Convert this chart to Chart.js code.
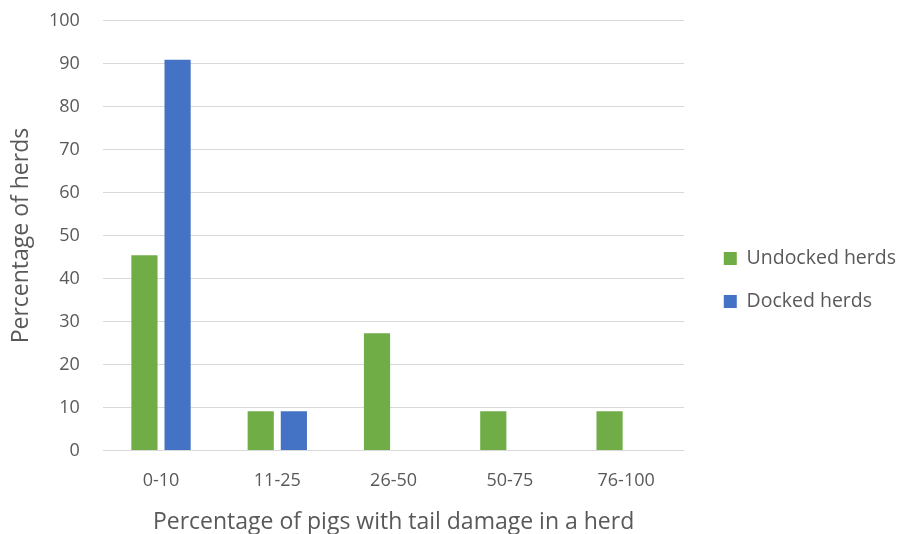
<!DOCTYPE html>
<html>
<head>
<meta charset="utf-8">
<script src="https://cdn.jsdelivr.net/npm/chart.js@4/dist/chart.umd.min.js"></script>
<style>
  html, body { margin: 0; padding: 0; background: #ffffff; }
  #wrap { width: 906px; height: 534px; }
</style>
</head>
<body>
<div id="wrap"><canvas id="c" width="906" height="534"></canvas></div>
<script>
// Share of herds by proportion of pigs with tail damage
const categories = ['0-10', '11-25', '26-50', '50-75', '76-100'];
const undockedHerds = [45.45, 9.09, 27.27, 9.09, 9.09];
const dockedHerds = [90.91, 9.09, 0, 0, 0];
const seriesNames = ['Undocked herds', 'Docked herds'];

const FONT = "'Open Sans', 'Liberation Sans', sans-serif";
const TEXT = '#595959';
const LEGEND_GAP = 16;

// Widens the legend box by a fixed gap on its plot-facing side,
// so the legend keeps its place while the plot ends further left.
const legendGap = {
  id: 'legendGap',
  beforeLayout(chart) {
    const lg = chart.legend;
    if (lg && !lg.__gapFit) {
      const fit = lg.fit.bind(lg);
      lg.fit = function () { fit(); this.width += LEGEND_GAP; };
      lg.__gapFit = true;
    }
  },
  afterLayout(chart) {
    const lg = chart.legend;
    if (lg) { lg.left += LEGEND_GAP; }
  }
};

new Chart(document.getElementById('c'), {
  type: 'bar',
  data: {
    labels: categories,
    datasets: [
      { label: seriesNames[0], data: undockedHerds, backgroundColor: '#70AD47' },
      { label: seriesNames[1], data: dockedHerds, backgroundColor: '#4472C4' }
    ]
  },
  plugins: [legendGap],
  options: {
    responsive: false,
    animation: false,
    devicePixelRatio: 1,
    layout: { padding: { left: 15, right: 0, top: 0, bottom: 0 } },
    datasets: { bar: { categoryPercentage: 0.57, barPercentage: 0.79 } },
    plugins: {
      tooltip: { enabled: false },
      legend: {
        position: 'right',
        // blank spacer above the items nudges the list slightly downward
        title: { display: true, text: ' ', font: { size: 10 }, padding: 7 },
        labels: {
          font: { family: FONT, size: 19.5 },
          color: TEXT,
          boxWidth: 13,
          boxHeight: 13,
          padding: 23.5
        }
      }
    },
    scales: {
      x: {
        grid: { display: false },
        border: { display: false },
        ticks: { font: { family: FONT, size: 18 }, color: TEXT, padding: 12 },
        title: {
          display: true,
          text: 'Percentage of pigs with tail damage in a herd',
          font: { family: FONT, size: 23, lineHeight: 1.0 },
          color: TEXT,
          padding: { top: 7, bottom: 0 }
        }
      },
      y: {
        min: 0,
        max: 100,
        ticks: { stepSize: 10, font: { family: FONT, size: 18 }, color: TEXT, padding: 10 },
        grid: { color: '#d9d9d9', lineWidth: 1, drawTicks: true, tickLength: 13, tickColor: 'rgba(0,0,0,0)' },
        border: { display: false },
        title: {
          display: true,
          text: 'Percentage of herds',
          font: { family: FONT, size: 23, lineHeight: 0.565 },
          color: TEXT,
          padding: { top: 0, bottom: 11 }
        }
      }
    }
  }
});
</script>
</body>
</html>
